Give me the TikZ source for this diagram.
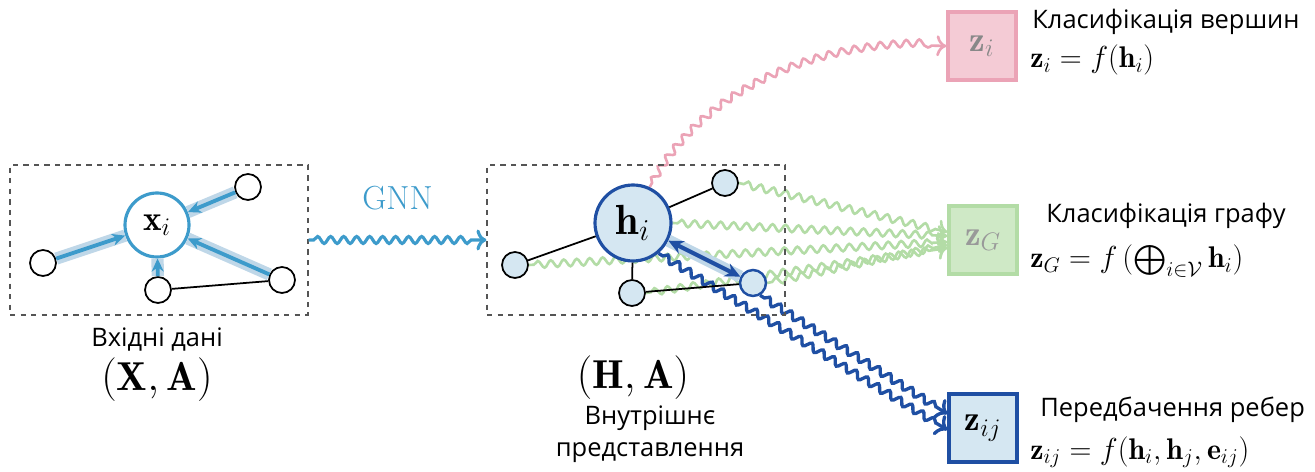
\documentclass[tikz,border=0pt]{standalone}
\usepackage{fontspec}
\usepackage{amsmath}
\usepackage{amssymb}
\newfontfamily\uafont{Open Sans}
\usetikzlibrary{
  arrows.meta,
  positioning,
  calc,
  backgrounds,
  decorations.pathmorphing
}
\definecolor{gnLight}{HTML}{3D9BCB}
\definecolor{gnDark}{HTML}{1F4FA3}
\definecolor{gnFill}{HTML}{D5E7F2}
\definecolor{gnHalo}{HTML}{BFD7E8}
\definecolor{gnPink}{HTML}{EBA3B6}
\definecolor{gnPinkFill}{HTML}{F4CBD5}
\definecolor{gnGreen}{HTML}{B3DCA6}
\definecolor{gnGreenFill}{HTML}{CFE9C6}
\definecolor{gnMute}{HTML}{555555}
\tikzset{
  vnode/.style={circle, draw=black, line width=1pt, minimum size=5.2mm, inner sep=0pt},
  vfill/.style={vnode, fill=gnFill},
  centre/.style={circle, line width=1.8pt, inner sep=0pt},
  zone/.style={draw=gnMute, dashed, line width=0.7pt, minimum width=5.96cm, minimum height=3cm},
  halo/.style={line width=7pt, gnHalo},
  msg/.style={-{Stealth[length=2.6mm, width=2.4mm]}, line width=2.2pt, gnLight},
  wave/.style={decorate, decoration={snake, amplitude=0.7mm, segment length=2.6mm,
    pre length=1mm, post length=2.5mm}, line width=1.5pt},
  outbox/.style={draw, line width=1.8pt, minimum size=1.36cm, font=\fontsize{20}{22}\selectfont},
  task/.style={font=\uafont\fontsize{14.5}{16}\selectfont, anchor=west, inner sep=0pt},
  formula/.style={font=\fontsize{17}{19}\selectfont, anchor=west, inner sep=0pt},
  caption/.style={font=\uafont\fontsize{14.5}{18}\selectfont, inner sep=0pt, align=center},
  pair/.style={font=\fontsize{23}{25}\selectfont, inner sep=0pt}
}

\begin{document}
\begin{tikzpicture}[x=0.02cm, y=-0.02cm]
  \useasboundingbox (0,0) rectangle (1315,472);

  % input graph
  \node[zone] (inbox) at (159,240) {};
  \node[centre, draw=gnLight, fill=white, minimum size=1.28cm,
    font=\fontsize{20}{22}\selectfont] (xi) at (157,225) {$\mathbf{x}_i$};
  \node[vnode] (xa) at (248,187) {};
  \node[vnode] (xb) at (43,263) {};
  \node[vnode] (xc) at (158,290) {};
  \node[vnode] (xd) at (282,280) {};
  \draw[line width=1pt] (xc) -- (xd);
  \foreach \v in {xa,xb,xc,xd} {
    \draw[halo] (\v) -- (xi);
    \draw[msg] (\v) -- (xi);
  }
  \node[caption] (incap) at (157,340) {Вхідні дані};
  \node[pair] (inpair) at (157,380) {$(\mathbf{X},\mathbf{A})$};

  % hidden graph
  \node[zone] (hidbox) at (636,240) {};
  \node[centre, draw=gnDark, fill=gnFill, minimum size=1.52cm,
    font=\fontsize{24}{26}\selectfont] (hi) at (633,223) {$\mathbf{h}_i$};
  \node[vfill] (ha) at (725,183) {};
  \node[vfill] (hb) at (515,265) {};
  \node[vfill] (hc) at (632,293) {};
  \node[vfill, draw=gnDark, line width=1.4pt] (hd) at (753,283) {};
  \foreach \v in {ha,hb,hc} \draw[line width=1pt] (hi) -- (\v);
  \draw[line width=1pt] (hc) -- (hd);
  \draw[halo] (hi) -- (hd);
  \draw[{Stealth[length=3mm, width=2.8mm]}-{Stealth[length=3mm, width=2.8mm]},
    line width=2.4pt, gnDark] (hi) -- (hd);
  \node[pair] (hidpair) at (633,378) {$(\mathbf{H},\mathbf{A})$};
  \node[caption] (hidcap) at (650,434) {Внутрішнє\\представлення};

  \draw[wave, gnLight, line width=1.8pt, -{To[length=2mm]}] (inbox.east) -- (hidbox.west)
    node[midway, above=4.5mm, font=\fontsize{19}{21}\selectfont, text=gnLight] {GNN};

  % outputs
  \node[outbox, draw=gnPink, fill=gnPinkFill, text=gnMute!70] (zi) at (982,46) {$\mathbf{z}_i$};
  \node[outbox, draw=gnGreen, fill=gnGreenFill, text=gnMute!60] (zG) at (983,240) {$\mathbf{z}_G$};
  \node[outbox, draw=gnDark, fill=gnFill] (zij) at (983,428) {$\mathbf{z}_{ij}$};

  \begin{scope}[on background layer]
    \draw[wave, gnPink, -{To[length=2mm]}] (hi.65) .. controls (690,110) and (790,40) .. (zi.west);
    \foreach \s/\e in {ha/-8, hi/-4, hb/2, hc/8, hd/5}
      \draw[wave, gnGreen, -{To[length=2mm]}] (\s.east) -- ($(zG.west)+(0,\e)$);
    \draw[wave, gnDark, line width=1.9pt, -{To[length=2.2mm]}] (hi.-50) -- ($(zij.west)+(0,2)$);
    \draw[wave, gnDark, line width=1.9pt, -{To[length=2.2mm]}] (hd.-60) -- ($(zij.west)+(0,-14)$);
  \end{scope}

  \node[task] (zitask) at (1032,22) {Класифікація вершин};
  \node[formula] (zieq) at (1030,60) {$\mathbf{z}_i = f(\mathbf{h}_i)$};
  \node[task] (zGtask) at (1046,216) {Класифікація графу};
  \node[formula] (zGeq) at (1030,261) {$\mathbf{z}_G = f\,(\bigoplus_{i\in\mathcal{V}}\mathbf{h}_i)$};
  \node[task] (zijtask) at (1040,410) {Передбачення ребер};
  \node[formula] (zijeq) at (1030,452) {$\mathbf{z}_{ij} = f(\mathbf{h}_i,\mathbf{h}_j,\mathbf{e}_{ij})$};
\end{tikzpicture}
\end{document}
